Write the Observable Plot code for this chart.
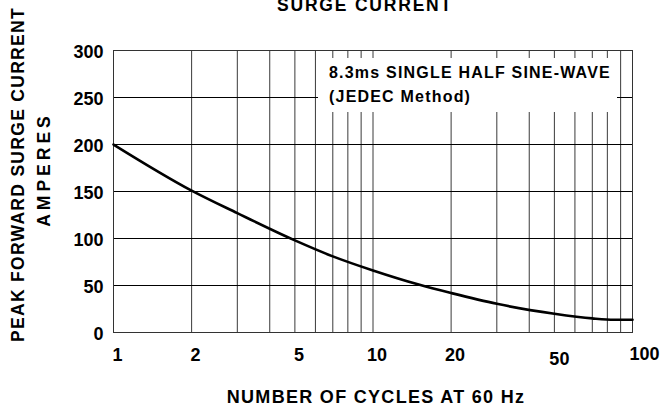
<!DOCTYPE html>
<html>
<head>
<meta charset="utf-8">
<script src="https://cdn.jsdelivr.net/npm/d3@7"></script>
<script src="https://cdn.jsdelivr.net/npm/@observablehq/plot@0.6"></script>
<style>
  body { margin: 0; background: #fff; }
  #wrap { position: relative; width: 664px; height: 409px; overflow: hidden; }
  #note {
    position: absolute; left: 318px; top: 58px; width: 299px; height: 54px;
    background: #fff; box-sizing: border-box; padding: 3px 0 0 11px;
    font: bold 16px "Liberation Sans", Arial, sans-serif; line-height: 24px;
    letter-spacing: 1.2px; color: #000; white-space: nowrap;
  }
</style>
</head>
<body>
<div id="wrap"></div>
<script>
// ---- data ----
const cycles = [1, 2, 3, 5, 7, 10, 15, 20, 30, 50, 70, 85, 100];
const amps   = [200, 151, 127, 98, 81, 66, 51, 42, 30.5, 20, 15, 13.5, 13.5];
const xGrid = [2, 3, 4, 5, 6, 7, 8, 9, 10, 20, 30, 40, 50, 60, 70, 80, 90];
const yGrid = [50, 100, 150, 200, 250];
const yTicks = [0, 50, 100, 150, 200, 250, 300];
const xTicksMain = [1, 2, 5, 10, 20];
const xTick50 = [50];
const xTick100 = [100];
const title = "SURGE CURRENT";
const yTitle1 = "PEAK FORWARD SURGE CURRENT";
const yTitle2 = "AMPERES";
const xTitle = "NUMBER OF CYCLES AT 60 Hz";
const noteLines = ["8.3ms SINGLE HALF SINE-WAVE", "(JEDEC Method)"];

const data = cycles.map((c, i) => ({cycles: c, amps: amps[i]}));

const xLabel = {x: d => d, text: d => String(d), frameAnchor: "bottom", lineAnchor: "top", fontSize: 18, fontWeight: "bold"};

const chart = Plot.plot({
  width: 664,
  height: 409,
  marginLeft: 113,
  marginRight: 32,
  marginTop: 50,
  marginBottom: 77,
  style: {fontFamily: "'Liberation Sans', Arial, sans-serif", fontWeight: "bold", color: "#000", background: "#fff"},
  x: {type: "log", domain: [1, 100], axis: null},
  y: {domain: [0, 300], axis: null},
  marks: [
    Plot.ruleX(xGrid, {stroke: "#3a3a3a", strokeWidth: 1}),
    Plot.ruleY(yGrid, {stroke: "#000", strokeWidth: 1}),
    Plot.frame({stroke: "#333", strokeWidth: 1}),
    Plot.line(data, {x: "cycles", y: "amps", curve: "monotone-x", stroke: "#000", strokeWidth: 2.6}),
    Plot.axisY(yTicks, {tickSize: 0, fontSize: 18, fontWeight: "bold", label: null, anchor: "left", tickPadding: 10, dy: 2}),
    Plot.text(xTicksMain, {...xLabel, dx: 4, dy: 16}),
    Plot.text(xTick50, {...xLabel, dx: 5, dy: 20}),
    Plot.text(xTick100, {...xLabel, dx: 12, dy: 15}),
    Plot.text([title], {text: d => d, frameAnchor: "top", textAnchor: "middle", dx: -8, dy: -40, lineAnchor: "bottom", fontSize: 17.5, fontWeight: "bold"}),
    Plot.text([xTitle], {text: d => d, frameAnchor: "bottom", textAnchor: "middle", dx: 3, dy: 70, lineAnchor: "bottom", fontSize: 18, fontWeight: "bold"}),
    Plot.text([yTitle1], {text: d => d, frameAnchor: "left", textAnchor: "middle", rotate: -90, dx: -90, dy: -17, lineAnchor: "bottom", fontSize: 17.5, fontWeight: "bold"}),
    Plot.text([yTitle2], {text: d => d, frameAnchor: "left", textAnchor: "middle", rotate: -90, dx: -64, dy: -22, lineAnchor: "bottom", fontSize: 17.5, fontWeight: "bold"})
  ]
});

const spacing = {};
spacing[title] = "1.8px";
spacing[xTitle] = "1.3px";
spacing[yTitle1] = "1.3px";
spacing[yTitle2] = "4px";
d3.select(chart).selectAll("text").each(function() {
  const s = spacing[this.textContent];
  if (s) d3.select(this).style("letter-spacing", s);
});

const wrap = document.getElementById("wrap");
wrap.appendChild(chart);
const note = document.createElement("div");
note.id = "note";
noteLines.forEach(t => {
  const line = document.createElement("div");
  line.textContent = t;
  note.appendChild(line);
});
wrap.appendChild(note);
</script>
</body>
</html>
